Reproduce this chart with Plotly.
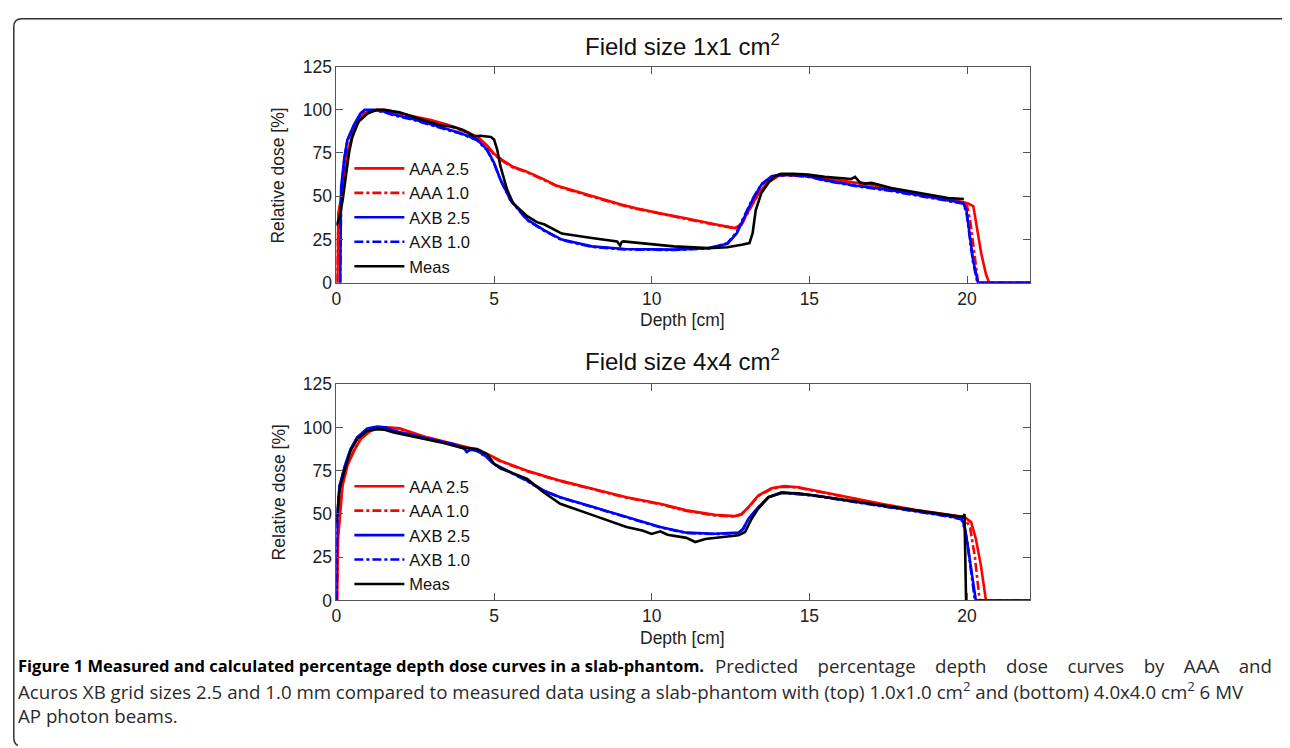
import plotly.graph_objects as go

W, H = 1290, 748

# ---------------- Data: top panel (field size 1x1 cm^2) ----------------
top_aaa25_d = [0.03, 0.06, 0.18, 0.35, 0.56, 0.77, 1.0, 1.3, 1.6, 2.0, 2.5, 3.0, 3.5, 4.0, 4.5, 4.8, 5.0, 5.3, 5.6, 6.0,
               6.5, 7.0, 7.5, 8.0, 8.5, 9.0, 9.5, 10.0, 10.5, 11.0, 11.5, 12.0, 12.65, 12.85, 13.05, 13.2, 13.4, 13.7,
               14.0, 14.3, 14.7, 15.0, 16.0, 17.0, 18.0, 19.0, 19.9, 20.05, 20.2, 20.3, 20.45, 20.6, 20.7, 22.0]
top_aaa25_v = [0, 40, 52, 75, 88.5, 96, 99, 100, 99.8, 98, 96, 94, 91.5, 88.5, 84, 79, 74.5, 70.5, 67, 64.5,
               60.5, 56, 53.3, 50.5, 47.7, 45.3, 43, 41, 39.2, 37.5, 35.5, 33.8, 31.6, 34, 41, 46, 52, 58.5,
               61.8, 62.5, 62, 61.5, 59, 56.5, 53, 50, 46.5, 45.7, 44.2, 33, 17, 5, 0, 0]

top_aaa10_d = [0.02, 0.05, 0.12, 0.35, 0.56, 0.77, 1.0, 1.3, 1.6, 2.0, 2.5, 3.0, 3.5, 4.0, 4.5, 4.8, 5.0, 5.3, 5.6, 6.0,
               6.5, 7.0, 7.5, 8.0, 8.5, 9.0, 9.5, 10.0, 10.5, 11.0, 11.5, 12.0, 12.65, 12.85, 13.05, 13.2, 13.4, 13.7,
               14.0, 14.3, 14.7, 15.0, 16.0, 17.0, 18.0, 19.0, 19.9, 20.0, 20.1, 20.25, 20.35, 22.0]
top_aaa10_v = [0, 28, 45, 74, 88, 95.5, 99, 100, 99.6, 97.8, 95.8, 93.6, 91, 88, 83.6, 78.5, 74, 70, 66.6, 64.2,
               60.2, 55.8, 53, 50.2, 47.5, 45, 42.8, 40.8, 39, 37.2, 35.3, 33.6, 31.4, 33.5, 40.5, 45.5, 51.5, 58,
               61.5, 62.2, 61.7, 61.2, 58.7, 56.2, 52.7, 49.7, 46.2, 44.5, 36, 14, 0, 0]

top_axb25_d = [0.12, 0.15, 0.25, 0.35, 0.56, 0.77, 0.9, 1.2, 1.5, 1.82, 2.4, 2.88, 3.4, 3.93, 4.46, 4.78, 5.0, 5.2, 5.52,
               6.05, 6.57, 7.15, 8.1, 9.15, 10.0, 10.7, 11.8, 12.4, 12.7, 12.96, 13.2, 13.48, 13.8, 14.1, 14.5, 15.0,
               15.5, 16.5, 17.6, 18.66, 19.7, 19.87, 19.98, 20.08, 20.19, 20.35, 22.0]
top_axb25_v = [0, 55, 72, 82.7, 91.4, 98, 100, 100, 99, 97.2, 94.8, 92.4, 89.5, 86.6, 82.8, 77, 69.3, 59.7, 48,
               36.5, 30.5, 24.9, 21, 19.5, 19.2, 19.1, 20, 22.5, 28.6, 38.3, 48, 56.7, 61.5, 62.5, 62.3, 61.5,
               59.2, 56.1, 53.4, 50, 46.5, 46.1, 42.2, 28.7, 13.3, 0, 0]

top_axb10_d = [0.12, 0.15, 0.25, 0.35, 0.56, 0.77, 0.9, 1.2, 1.5, 1.82, 2.4, 2.88, 3.4, 3.93, 4.46, 4.78, 5.0, 5.2, 5.52,
               6.05, 6.57, 7.15, 8.1, 9.15, 10.0, 10.7, 11.8, 12.4, 12.7, 12.96, 13.2, 13.48, 13.8, 14.1, 14.5, 15.0,
               15.5, 16.5, 17.6, 18.66, 19.7, 19.87, 19.98, 20.08, 20.19, 20.33, 22.0]
top_axb10_v = [0, 52, 71, 82, 91, 97.6, 99.6, 99.7, 98.7, 96.8, 94.4, 92, 89, 86.2, 82.4, 76.5, 69, 59.5, 47.6,
               36.2, 30.2, 24.6, 20.8, 19.2, 19, 18.9, 19.8, 22.8, 29.5, 39, 48.5, 57, 61.3, 62.2, 62, 61.2,
               59, 55.8, 53, 49.6, 46.2, 45.8, 41, 27, 12, 0, 0]

top_meas_d = [0, 0.1, 0.2, 0.3, 0.4, 0.5, 0.7, 1.0, 1.3, 1.5, 2.0, 2.5, 2.88, 3.3, 3.72, 3.9, 4.04, 4.36, 4.57, 4.9, 5.0,
              5.1, 5.2, 5.41, 5.6, 6.05, 6.36, 6.6, 7.15, 8.1, 8.9, 9.0, 9.05, 9.1, 9.7, 10.7, 11.8, 12.4, 12.85, 13.1,
              13.2, 13.3, 13.48, 13.7, 13.9, 14.1, 14.5, 14.96, 15.49, 16.0, 16.33, 16.45, 16.6, 16.76, 16.97, 17.6,
              18.66, 19.4, 19.9]
top_meas_v = [33, 38, 48, 62, 75, 84, 93, 98, 100, 100, 98.5, 95.5, 93.4, 91, 90, 89, 88, 84.7, 85, 84.3, 82.8,
              77, 67.5, 54, 46, 38.5, 35, 33.6, 28.4, 25.8, 23.9, 21.5, 23.5, 23.9, 22.9, 21, 20, 20.5, 21.9, 22.9,
              28.6, 42, 51.9, 57.7, 61.5, 62.9, 63, 62.5, 61.2, 60.5, 60, 61.2, 58, 57.3, 57.7, 54.8,
              51.5, 49, 48.4]

# ---------------- Data: bottom panel (field size 4x4 cm^2) ----------------
bot_aaa25_d = [0.02, 0.05, 0.19, 0.35, 0.56, 0.77, 1.09, 1.4, 1.7, 2.0, 2.88, 3.93, 4.46, 4.9, 5.2, 6.05, 7.1, 8.15,
               9.2, 10.27, 11.1, 12.0, 12.64, 12.85, 13.07, 13.38, 13.8, 14.2, 14.65, 15.17, 16.23, 17.28, 18.34,
               19.4, 19.92, 20.13, 20.28, 20.44, 20.6, 22.0]
bot_aaa25_v = [0, 35, 66, 78, 86.6, 93.3, 98.1, 100, 100, 99.5, 94.3, 89.4, 87.1, 83.7, 80.8, 75, 69.3, 64.5,
               59.7, 55.9, 52.1, 49.5, 48.8, 50, 54, 60.7, 64.9, 66.1, 65.5, 63.6, 59.7, 55.9, 52.4,
               49.5, 48.2, 45.3, 35.7, 20.3, 0, 0]

bot_aaa10_d = [0.02, 0.05, 0.19, 0.35, 0.56, 0.77, 1.09, 1.4, 1.7, 2.0, 2.88, 3.93, 4.46, 4.9, 5.2, 6.05, 7.1, 8.15,
               9.2, 10.27, 11.1, 12.0, 12.64, 12.85, 13.07, 13.38, 13.8, 14.2, 14.65, 15.17, 16.23, 17.28, 18.34,
               19.4, 19.92, 20.1, 20.25, 20.4, 22.0]
bot_aaa10_v = [0, 38, 67, 78.5, 86.8, 93.5, 98.2, 100, 99.8, 99.2, 94, 89.2, 86.8, 83.4, 80.5, 74.7, 69, 64.2,
               59.4, 55.6, 51.8, 49.2, 48.5, 49.8, 53.8, 60.4, 64.6, 65.8, 65.2, 63.3, 59.4, 55.6, 52.1,
               49.2, 47.9, 42, 25, 0, 0]

bot_axb25_d = [0.0, 0.02, 0.1, 0.27, 0.45, 0.66, 0.98, 1.3, 1.6, 1.82, 2.88, 3.72, 4.0, 4.14, 4.3, 4.46, 4.78, 5.0,
               5.52, 6.05, 6.57, 7.1, 8.15, 9.2, 10.27, 11.1, 12.0, 12.75, 12.9, 13.07, 13.38, 13.7, 14.12, 15.17,
               16.23, 17.28, 18.34, 19.4, 19.82, 19.92, 20.02, 20.18, 20.28, 22.0]
bot_axb25_v = [0, 47, 66.4, 78, 87.5, 94.3, 99.5, 100.5, 100, 98.1, 93.7, 90.4, 88.5, 86, 87.5, 86.6, 82.8, 79,
               74.2, 69.3, 63.6, 59.7, 54, 48.2, 42.5, 39.2, 38.6, 39.2, 41.5, 47.3, 54, 59.7, 62.6, 60.7,
               57.8, 55, 52.1, 48.8, 47.3, 43.5, 31.9, 12.7, 0, 0]

bot_axb10_d = [0.0, 0.02, 0.1, 0.27, 0.45, 0.66, 0.98, 1.3, 1.6, 1.82, 2.88, 3.72, 4.0, 4.14, 4.3, 4.46, 4.78, 5.0,
               5.52, 6.05, 6.57, 7.1, 8.15, 9.2, 10.27, 11.1, 12.0, 12.75, 12.9, 13.07, 13.38, 13.7, 14.12, 15.17,
               16.23, 17.28, 18.34, 19.4, 19.82, 19.92, 20.0, 20.15, 20.25, 22.0]
bot_axb10_v = [0, 45, 66, 77.6, 87.2, 94, 99.3, 100.2, 99.8, 97.9, 93.5, 90.2, 88.2, 85.8, 87.2, 86.4, 82.6, 78.8,
               74, 69.1, 63.4, 59.5, 53.8, 48, 42.3, 39, 38.4, 39, 41.3, 47, 53.7, 59.5, 62.4, 60.5,
               57.6, 54.8, 51.9, 48.6, 47, 42, 35, 12, 0, 0]

bot_meas_d = [0, 0.1, 0.24, 0.45, 0.66, 0.98, 1.3, 1.5, 1.82, 2.88, 3.4, 3.93, 4.46, 4.78, 5.0, 5.2, 6.05, 6.57, 7.1,
              8.15, 9.2, 9.7, 10.0, 10.27, 10.5, 11.1, 11.38, 11.7, 12.0, 12.75, 12.96, 13.17, 13.38, 13.7, 14.12,
              14.65, 15.17, 16.23, 17.28, 18.34, 19.4, 19.87, 19.92, 19.95, 19.97]
bot_meas_v = [45, 64.5, 74, 86.6, 93.3, 98.1, 99, 98.8, 97.2, 93.3, 91, 88.5, 87.5, 84.7, 79, 76.4, 70.3, 62.6, 55.9,
              49.2, 42.5, 40.5, 38.5, 40, 38, 36.2, 33.8, 35.5, 36.2, 37.7, 39.6, 47.3, 53.1, 59.7, 62.2,
              62, 60.7, 57.8, 55, 52.1, 49.2, 48.2, 50, 20, 0]

series_names = ["AAA 2.5", "AAA 1.0", "AXB 2.5", "AXB 1.0", "Meas"]
series_colors = ["#ff0000", "#ff0000", "#0000ff", "#0000ff", "#000000"]
series_dash = ["solid", "dashdot", "solid", "dashdot", "solid"]

panel_titles = ["Field size 1x1 cm<sup>2</sup>", "Field size 4x4 cm<sup>2</sup>"]
x_ticks = [0, 5, 10, 15, 20]
y_ticks = [0, 25, 50, 75, 100, 125]

top_series = [(top_aaa25_d, top_aaa25_v), (top_aaa10_d, top_aaa10_v), (top_axb25_d, top_axb25_v),
              (top_axb10_d, top_axb10_v), (top_meas_d, top_meas_v)]
bot_series = [(bot_aaa25_d, bot_aaa25_v), (bot_aaa10_d, bot_aaa10_v), (bot_axb25_d, bot_axb25_v),
              (bot_axb10_d, bot_axb10_v), (bot_meas_d, bot_meas_v)]

# ---------------- Placement helpers (target picture pixels -> paper fractions) ----------------
# the photographed page places figure pixel f at about 10 + 0.998 f (x) and 17.3 + 0.977 f (y)
def fx(sx):
    return (sx - 10.0) / 0.998

def fy(sy):
    return (sy - 17.3) / 0.977

def px_x(sx):
    return fx(sx) / W

def px_y(sy):
    return 1 - fy(sy) / H

def fig_x(f):
    return f / W

def fig_y(f):
    return 1 - f / H

fig = go.Figure()

for series, xa, ya, lg in [(top_series, "x", "y", "legend"), (bot_series, "x2", "y2", "legend2")]:
    for i, (d, v) in enumerate(series):
        fig.add_trace(go.Scatter(
            x=d, y=v, mode="lines", name=series_names[i],
            line=dict(color=series_colors[i], width=2.6, dash=series_dash[i]),
            xaxis=xa, yaxis=ya, legend=lg, showlegend=True,
        ))

AX_FONT = dict(family="Liberation Sans, Arial, sans-serif", size=17.5, color="#222222")

def xaxis_cfg(anchor):
    return dict(domain=[px_x(334), px_x(1029)], range=[0, 22], tickvals=x_ticks, ticks="inside", ticklen=7,
                tickcolor="#555555", showline=True, linecolor="#555555", linewidth=1, mirror="ticks",
                showgrid=False, zeroline=False, tickfont=AX_FONT, anchor=anchor, fixedrange=True)

def yaxis_cfg(anchor, top, bottom):
    return dict(domain=[px_y(bottom), px_y(top)], range=[0, 125], tickvals=y_ticks, ticks="inside", ticklen=7,
                tickcolor="#555555", showline=True, linecolor="#555555", linewidth=1, mirror="ticks",
                showgrid=False, zeroline=False, tickfont=AX_FONT, anchor=anchor, fixedrange=True)

legend_common = dict(xanchor="left", yanchor="top", bgcolor="rgba(0,0,0,0)", borderwidth=0,
                     font=dict(family="Liberation Sans, Arial, sans-serif", size=16.5, color="#111111"),
                     itemwidth=50, tracegroupgap=0)

annotations = []
for title, ty, dy, ly in [(panel_titles[0], 44, 320, 175), (panel_titles[1], 361, 640, 493)]:
    annotations.append(dict(text=title, x=px_x(681), y=px_y(ty), xref="paper", yref="paper", showarrow=False,
                            xanchor="center", yanchor="middle",
                            font=dict(family="Liberation Sans, Arial, sans-serif", size=24, color="#111111")))
    annotations.append(dict(text="Depth [cm]", x=px_x(681), y=px_y(dy), xref="paper", yref="paper",
                            showarrow=False, xanchor="center", yanchor="middle", font=AX_FONT))
    annotations.append(dict(text="Relative dose [%]", x=px_x(276), y=px_y(ly), xref="paper", yref="paper",
                            showarrow=False, xanchor="center", yanchor="middle", textangle=-90, font=AX_FONT))

CAP_REG = dict(family="Open Sans, Noto Sans, sans-serif", size=18.7, color="#2a2a2a")
CAP_BOLD = dict(family="Open Sans, Noto Sans, sans-serif", size=16.5, color="#000000", weight="bold")
GAP = "\u00a0\u00a0\u00a0\u00a0"
line1_regular = GAP.join(["Predicted", "percentage", "depth", "dose", "curves", "by", "AAA", "and"])
annotations += [
    dict(text="Figure 1 Measured and calculated percentage depth dose curves in a slab-phantom.",
         x=px_x(13), y=px_y(667), xref="paper", yref="paper", showarrow=False, xanchor="left", yanchor="middle",
         font=CAP_BOLD),
    dict(text=line1_regular,
         x=px_x(1273), y=px_y(667), xref="paper", yref="paper", showarrow=False, xanchor="right", yanchor="middle",
         font=CAP_REG),
    dict(text="Acuros XB grid sizes 2.5 and 1.0 mm compared to measured data using a slab-phantom with (top) "
              "1.0x1.0 cm<sup>2</sup> and (bottom) 4.0x4.0 cm<sup>2</sup> 6 MV",
         x=px_x(13), y=px_y(692), xref="paper", yref="paper", showarrow=False, xanchor="left", yanchor="middle",
         font=CAP_REG),
    dict(text="AP photon beams.",
         x=px_x(13), y=px_y(717), xref="paper", yref="paper", showarrow=False, xanchor="left", yanchor="middle",
         font=CAP_REG),
]

# partial rounded frame (top and left edges), as close to the picture edge as the page allows
frame_path = (f"M {fig_x(1283)},{fig_y(0.8)} L {fig_x(9)},{fig_y(0.8)} Q {fig_x(0.8)},{fig_y(0.8)} "
              f"{fig_x(0.8)},{fig_y(9)} L {fig_x(0.8)},{fig_y(739)} Q {fig_x(0.8)},{fig_y(746)} "
              f"{fig_x(5)},{fig_y(747.5)}")

fig.update_layout(
    width=W, height=H, margin=dict(l=0, r=0, t=0, b=0),
    paper_bgcolor="white", plot_bgcolor="white",
    xaxis=xaxis_cfg("y"), yaxis=yaxis_cfg("x", 66, 283),
    xaxis2=xaxis_cfg("y2"), yaxis2=yaxis_cfg("x2", 385, 602),
    legend=dict(x=px_x(347), y=px_y(151), **legend_common),
    legend2=dict(x=px_x(347), y=px_y(470), **legend_common),
    annotations=annotations,
    shapes=[dict(type="path", path=frame_path, xref="paper", yref="paper",
                 line=dict(color="#333333", width=1.5))],
    showlegend=True,
)

fig.write_html("out.html")
